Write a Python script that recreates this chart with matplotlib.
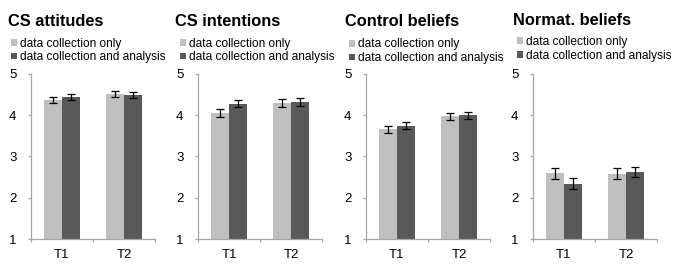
import numpy as np
import matplotlib
matplotlib.use('Agg')
import matplotlib.pyplot as plt

plt.rcParams['font.family'] = ['Liberation Sans', 'DejaVu Sans']

# --- data ---
panel_titles = ['CS attitudes', 'CS intentions', 'Control beliefs', 'Normat. beliefs']
times = ['T1', 'T2']
series_labels = ['data collection only', 'data collection and analysis']

collection_only = [[4.36, 4.51], [4.05, 4.29], [3.65, 3.97], [2.59, 2.58]]
collection_analysis = [[4.43, 4.48], [4.27, 4.31], [3.74, 3.99], [2.34, 2.63]]
err_only = [[0.07, 0.07], [0.10, 0.10], [0.09, 0.09], [0.13, 0.13]]
err_analysis = [[0.07, 0.07], [0.085, 0.10], [0.09, 0.085], [0.13, 0.12]]

y_ticks = [1, 2, 3, 4, 5]

# --- styling ---
light = '#bfbfbf'
dark = '#595959'
axis_grey = '#a6a6a6'

W, H = 673, 267
fig = plt.figure(figsize=(W / 100, H / 100), dpi=100)

ax_lefts = [31, 198, 366, 533]      # px
ax_width = 124
ax_bottom = 239
ax_top = 73.7
title_x = [8, 175, 345, 513]
title_base = [25.7, 25.7, 26.5, 25.0]
legend_x = [11, 180, 349, 517]
legend_top = [37.5, 37.5, 38.5, 36]

bar_w = 0.285
x = np.arange(len(times)) + 0.5

for i, title in enumerate(panel_titles):
    ax = fig.add_axes([ax_lefts[i] / W, 1 - ax_bottom / H,
                       ax_width / W, (ax_bottom - ax_top) / H])
    b1 = ax.bar(x - bar_w / 2, collection_only[i], bar_w, bottom=0, color=light, zorder=2)
    b2 = ax.bar(x + bar_w / 2, collection_analysis[i], bar_w, bottom=0, color=dark, zorder=2)
    ax.errorbar(x - bar_w / 2, collection_only[i], yerr=err_only[i], fmt='none',
                ecolor='black', elinewidth=0.9, capsize=2.6, capthick=0.9, zorder=3)
    ax.errorbar(x + bar_w / 2, collection_analysis[i], yerr=err_analysis[i], fmt='none',
                ecolor='black', elinewidth=0.9, capsize=2.6, capthick=0.9, zorder=3)

    ax.set_xlim(0, 2)
    ax.set_ylim(1, 5)
    ax.set_yticks(y_ticks)
    ax.set_xticks(x)
    ax.set_xticklabels(times)
    ax.set_xticks([0, 1, 2], minor=True)
    ax.tick_params(axis='x', which='major', length=0, pad=7, labelsize=9.5)
    ax.tick_params(axis='x', which='minor', length=2.5, width=0.9, color=axis_grey, direction='out')
    ax.tick_params(axis='y', length=2.5, width=0.9, color=axis_grey, direction='out',
                   pad=8, labelsize=9.5)
    for s in ['top', 'right']:
        ax.spines[s].set_visible(False)
    for s in ['left', 'bottom']:
        ax.spines[s].set_color(axis_grey)
        ax.spines[s].set_linewidth(0.9)

    fig.text(title_x[i] / W, 1 - title_base[i] / H, title, fontsize=11.8,
             fontweight='bold', ha='left', va='baseline')

    fig.legend([b1, b2], series_labels, loc='upper left',
               bbox_to_anchor=(legend_x[i] / W, 1 - legend_top[i] / H),
               frameon=False, fontsize=8.6, borderpad=0, borderaxespad=0,
               handlelength=0.5, handleheight=0.5, handletextpad=0.25,
               labelspacing=0.15)

fig.savefig('out.png', dpi=100)
